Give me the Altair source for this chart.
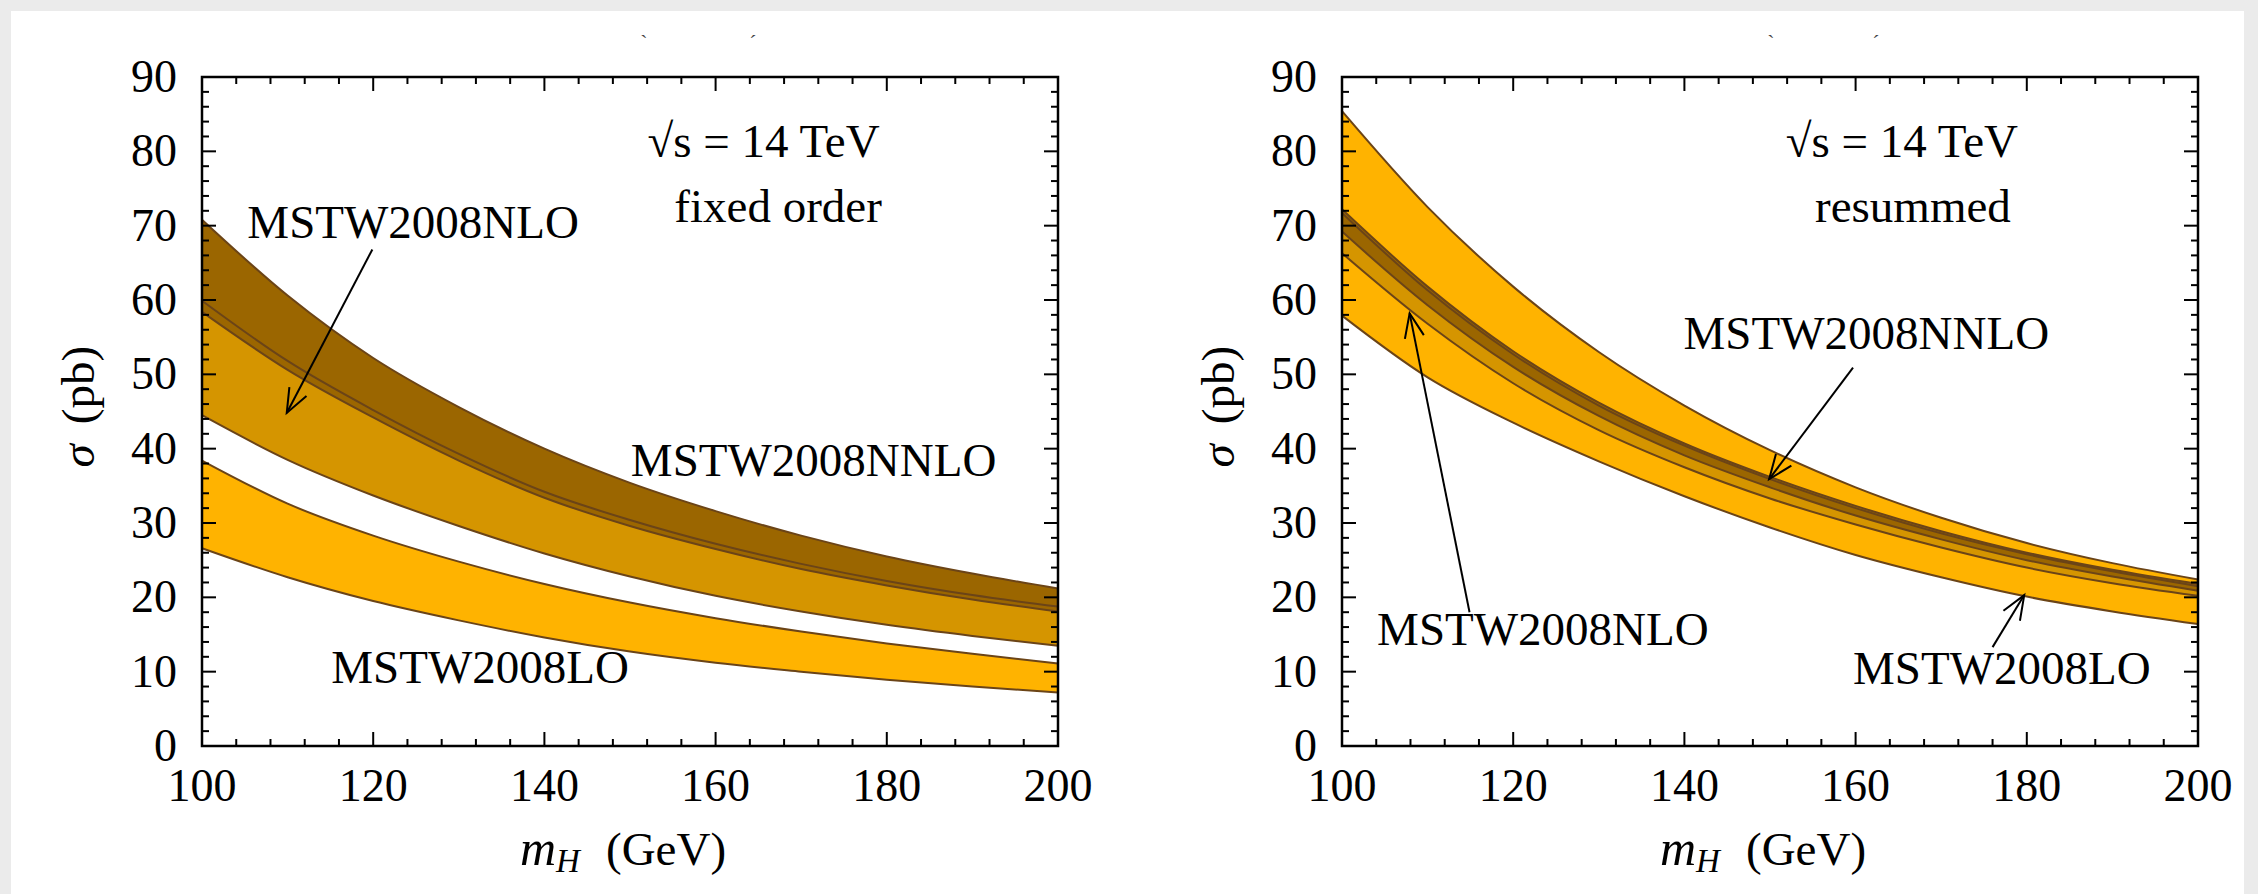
import math
import altair as alt
import pandas as pd

# ---------------- data ----------------
mh = [100, 110, 120, 130, 140, 150, 160, 170, 180, 190, 200]

# fixed order panel
lo_fo_hi = [38.4, 32.6, 28.3, 24.8, 21.8, 19.3, 17.2, 15.4, 13.8, 12.4, 11.1]
lo_fo_lo = [26.6, 22.7, 19.5, 16.9, 14.6, 12.7, 11.2, 10.0, 8.9, 8.0, 7.2]
nlo_fo_hi = [59.9, 51.8, 45.2, 39.3, 34.2, 30.4, 27.2, 24.5, 22.2, 20.3, 18.75]
nlo_fo_lo = [44.5, 38.5, 33.7, 29.6, 25.9, 22.8, 20.2, 18.1, 16.3, 14.8, 13.5]
nnlo_fo_hi = [70.8, 60.6, 52.2, 45.6, 40.0, 35.4, 31.6, 28.3, 25.5, 23.2, 21.2]
nnlo_fo_lo = [58.4, 50.6, 44.2, 38.4, 33.4, 29.6, 26.5, 23.8, 21.6, 19.7, 18.1]

# resummed panel
lo_rs_hi = [85.4, 72.5, 61.8, 53.0, 45.8, 39.8, 34.8, 30.7, 27.3, 24.6, 22.4]
lo_rs_lo = [57.9, 49.6, 43.5, 38.3, 33.6, 29.4, 25.7, 22.7, 20.1, 18.1, 16.4]
nlo_rs_hi = [71.7, 61.3, 52.7, 45.8, 40.4, 35.9, 32.0, 28.6, 25.8, 23.5, 21.5]
nlo_rs_lo = [66.3, 56.8, 48.8, 42.5, 37.5, 33.3, 29.8, 26.7, 24.0, 21.9, 20.2]
nnlo_rs_hi = [72.2, 61.8, 53.1, 46.2, 40.7, 36.2, 32.3, 28.9, 26.0, 23.7, 21.8]
nnlo_rs_lo = [69.2, 59.3, 51.0, 44.4, 39.1, 34.8, 31.0, 27.8, 25.0, 22.8, 20.9]

x_major = [100, 120, 140, 160, 180, 200]
x_minor = [v for v in range(100, 201, 4) if v not in x_major]
y_major = [0, 10, 20, 30, 40, 50, 60, 70, 80, 90]
y_minor = [v for v in range(0, 91, 2) if v not in y_major]

# annotations: (text, x, y)
fo_center_texts = [("√s = 14 TeV", 165.6, 79.3), ("fixed order", 167.3, 70.5)]
fo_left_texts = [("MSTW2008NLO", 105.3, 68.4), ("MSTW2008NNLO", 150.1, 36.3),
                 ("MSTW2008LO", 115.1, 8.5)]
fo_arrows = [(119.9, 66.8, 109.9, 44.8)]

rs_center_texts = [("√s = 14 TeV", 165.4, 79.3), ("resummed", 166.7, 70.5)]
rs_left_texts = [("MSTW2008NNLO", 139.9, 53.4), ("MSTW2008NLO", 104.1, 13.6),
                 ("MSTW2008LO", 159.7, 8.4)]
rs_arrows = [(159.7, 50.9, 149.9, 35.9), (114.9, 18.0, 107.9, 58.2),
             (176.0, 13.3, 179.7, 20.3)]

# ---------------- style ----------------
W, H = 856, 669
FONT = "Liberation Serif"
C_LO, C_NLO, C_NNLO = "#FFB300", "#D59500", "#9B6600"
C_EDGE = "#6B4417"
FS = 47

XS = alt.Scale(domain=[100, 200], nice=False, zero=False)
YS = alt.Scale(domain=[0, 90], nice=False, zero=False)


def X(f):
    return alt.X(f, type="quantitative", scale=XS, axis=None)


def Y(f):
    return alt.Y(f, type="quantitative", scale=YS, axis=None)


one = pd.DataFrame({"d": [0]})


def panel(bands, center_texts, left_texts, arrows, first, accents):
    layers = []
    if first:
        layers.append(alt.Chart(one).mark_rect(color="white").encode(
            x=alt.value(-191), x2=alt.value(2042), y=alt.value(-66), y2=alt.value(818)))
    # fills
    for lo, hi, col in bands:
        df = pd.DataFrame({"mH": mh, "lo": lo, "hi": hi})
        layers.append(alt.Chart(df).mark_area(color=col, interpolate="monotone").encode(
            x=X("mH"), y=Y("hi"), y2=alt.Y2("lo")))
    # edges
    for lo, hi, col in bands:
        df = pd.DataFrame({"mH": mh, "lo": lo, "hi": hi})
        for f in ("lo", "hi"):
            layers.append(alt.Chart(df).mark_line(color=C_EDGE, strokeWidth=2,
                                                  interpolate="monotone").encode(
                x=X("mH"), y=Y(f)))
    # frame
    layers.append(alt.Chart(one).mark_rect(filled=False, stroke="black", strokeWidth=2.5).encode(
        x=alt.value(0), x2=alt.value(W), y=alt.value(0), y2=alt.value(H)))
    # ticks
    for vals, ln in ((x_major, 14), (x_minor, 7)):
        d = pd.DataFrame({"v": vals})
        layers.append(alt.Chart(d).mark_rule(color="black", strokeWidth=2).encode(
            x=X("v"), y=alt.value(H), y2=alt.value(H - ln)))
        layers.append(alt.Chart(d).mark_rule(color="black", strokeWidth=2).encode(
            x=X("v"), y=alt.value(0), y2=alt.value(ln)))
    for vals, ln in ((y_major, 14), (y_minor, 7)):
        d = pd.DataFrame({"v": vals})
        layers.append(alt.Chart(d).mark_rule(color="black", strokeWidth=2).encode(
            y=Y("v"), x=alt.value(0), x2=alt.value(ln)))
        layers.append(alt.Chart(d).mark_rule(color="black", strokeWidth=2).encode(
            y=Y("v"), x=alt.value(W), x2=alt.value(W - ln)))
    # tick labels
    dx = pd.DataFrame({"v": x_major, "t": [str(v) for v in x_major]})
    layers.append(alt.Chart(dx).mark_text(font=FONT, fontSize=46, align="center",
                                          baseline="alphabetic", color="black").encode(
        x=X("v"), y=alt.value(H + 55), text="t:N"))
    dy = pd.DataFrame({"v": y_major, "t": [str(v) for v in y_major]})
    layers.append(alt.Chart(dy).mark_text(font=FONT, fontSize=46, align="right",
                                          baseline="alphabetic", dy=15, color="black").encode(
        y=Y("v"), x=alt.value(-25), text="t:N"))
    # axis titles
    layers.append(alt.Chart(one).mark_text(text="m", font=FONT, fontSize=50, fontStyle="italic",
                                           align="left", baseline="alphabetic").encode(
        x=alt.value(318), y=alt.value(788)))
    layers.append(alt.Chart(one).mark_text(text="H", font=FONT, fontSize=33, fontStyle="italic",
                                           align="left", baseline="alphabetic").encode(
        x=alt.value(354), y=alt.value(795)))
    layers.append(alt.Chart(one).mark_text(text="(GeV)", font=FONT, fontSize=FS,
                                           align="left", baseline="alphabetic").encode(
        x=alt.value(404), y=alt.value(788)))
    layers.append(alt.Chart(one).mark_text(text="σ", font=FONT, fontSize=FS, fontStyle="italic",
                                           angle=270, align="center", baseline="alphabetic").encode(
        x=alt.value(-108), y=alt.value(379)))
    layers.append(alt.Chart(one).mark_text(text="(pb)", font=FONT, fontSize=FS,
                                           angle=270, align="center", baseline="alphabetic").encode(
        x=alt.value(-108), y=alt.value(308)))
    # top accents (remnants)
    for t, xv in accents:
        layers.append(alt.Chart(one).mark_text(text=t, font=FONT, fontSize=22, color="#444444",
                                               align="center", baseline="middle").encode(
            x=alt.value(xv), y=alt.value(-34)))
    # annotations
    dc = pd.DataFrame(center_texts, columns=["t", "x", "y"])
    layers.append(alt.Chart(dc).mark_text(font=FONT, fontSize=FS, align="center",
                                          baseline="alphabetic", color="black").encode(
        x=X("x"), y=Y("y"), text="t:N"))
    dl = pd.DataFrame(left_texts, columns=["t", "x", "y"])
    layers.append(alt.Chart(dl).mark_text(font=FONT, fontSize=FS, align="left",
                                          baseline="alphabetic", color="black").encode(
        x=X("x"), y=Y("y"), text="t:N"))
    # arrows
    px, py = W / 100.0, H / 90.0
    rows = []
    for x0, y0, x1, y1 in arrows:
        dxs = (x1 - x0) * px
        dys = -(y1 - y0) * py
        ang = math.degrees(math.atan2(dxs, -dys)) % 360
        rows.append({"x0": x0, "y0": y0, "x1": x1, "y1": y1, "ang": ang})
    da = pd.DataFrame(rows)
    layers.append(alt.Chart(da).mark_rule(color="black", strokeWidth=2).encode(
        x=X("x0"), y=Y("y0"), x2=alt.X2("x1"), y2=alt.Y2("y1")))
    layers.append(alt.Chart(da).mark_point(shape="M -0.4 1 L 0 0 L 0.4 1", filled=False,
                                           size=2330, strokeWidth=2, color="black",
                                           opacity=1).encode(
        x=X("x1"), y=Y("y1"), angle=alt.Angle("ang:Q", scale=None)))
    return alt.layer(*layers).properties(width=W, height=H)


left = panel([(lo_fo_lo, lo_fo_hi, C_LO), (nlo_fo_lo, nlo_fo_hi, C_NLO),
              (nnlo_fo_lo, nnlo_fo_hi, C_NNLO)],
             fo_center_texts, fo_left_texts, fo_arrows, True, [("`", 442), ("´", 551)])
right = panel([(lo_rs_lo, lo_rs_hi, C_LO), (nlo_rs_lo, nlo_rs_hi, C_NLO),
               (nnlo_rs_lo, nnlo_rs_hi, C_NNLO)],
              rs_center_texts, rs_left_texts, rs_arrows, False, [("`", 429), ("´", 534)])

chart = alt.hconcat(left, right, spacing=284, bounds="flush").properties(
    padding={"left": 11, "top": 11, "right": 14, "bottom": 0}
).configure(background="#ebebeb").configure_view(strokeWidth=0)

chart.save("out.html", embed_options={"renderer": "svg", "actions": False})
